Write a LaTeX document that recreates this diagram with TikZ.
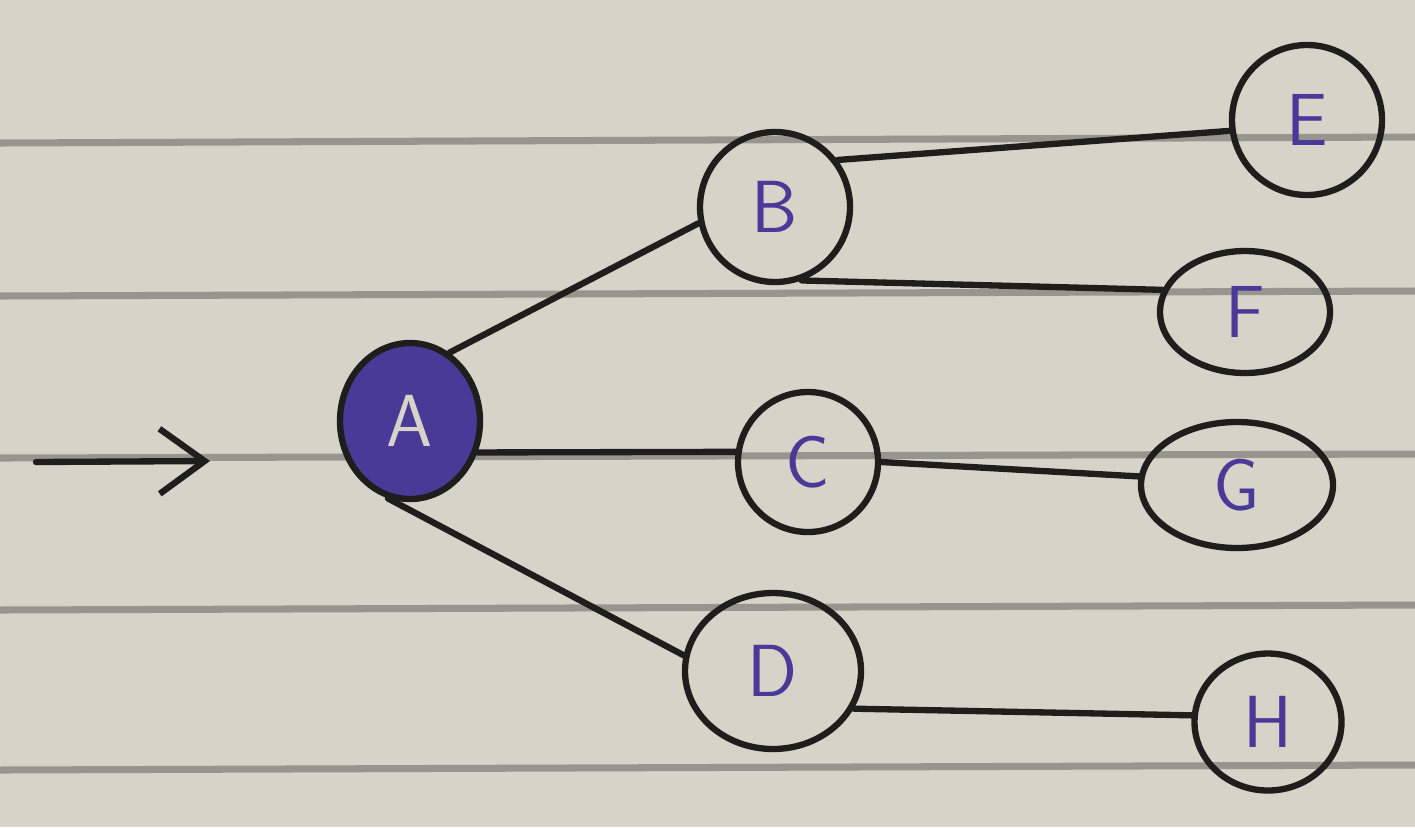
\documentclass[tikz,border=0pt]{standalone}
\usepackage{xcolor}
\usetikzlibrary{arrows.meta,shapes.geometric}
\definecolor{paper}{RGB}{214,211,201}
\definecolor{rule}{RGB}{150,150,142}
\definecolor{ink}{RGB}{72,58,150}
\definecolor{pen}{RGB}{30,30,28}
\begin{document}
\begin{tikzpicture}[
	vertex/.style   = {ellipse, draw=pen, line width=1.8pt, inner sep=0pt,
		text=ink, font=\sffamily\fontsize{21}{24}\selectfont},
	rootvertex/.style = {vertex, fill=ink, text=paper},
	link/.style     = {draw=pen, line width=1.8pt, line cap=round},
	ruling/.style   = {rule, line width=2pt},
	entry/.style    = {link, -{Straight Barb[length=4.5mm, width=6.5mm, line width=1.8pt]}}
	]
	
	% ===================== Paper =====================
	\fill[paper] (0,0) rectangle (14.15,8.27);
	\useasboundingbox (0,0) rectangle (14.15,8.27);
	\draw[ruling] (0,6.84) -- (14.15,6.90);
	\draw[ruling] (0,5.31) -- (14.15,5.36);
	\draw[ruling] (0,3.69) -- (14.15,3.73);
	\draw[ruling] (0,2.17) -- (14.15,2.22);
	\draw[ruling] (0,0.57) -- (14.15,0.62);
	
	% ===================== Tree =====================
	\node[rootvertex, minimum width=1.40cm, minimum height=1.56cm] (A) at (4.10,4.06) {A};
	
	\node[vertex, minimum width=1.50cm, minimum height=1.50cm] (B) at (7.75,6.20) {B};
	\node[vertex, minimum width=1.40cm, minimum height=1.40cm] (C) at (8.08,3.65) {C};
	\node[vertex, minimum width=1.76cm, minimum height=1.56cm] (D) at (7.73,1.56) {D};
	
	\node[vertex, minimum width=1.50cm, minimum height=1.50cm] (E) at (13.07,7.07) {E};
	\node[vertex, minimum width=1.70cm, minimum height=1.22cm] (F) at (12.45,5.15) {F};
	\node[vertex, minimum width=1.92cm, minimum height=1.26cm] (G) at (12.37,3.42) {G};
	\node[vertex, minimum width=1.47cm, minimum height=1.37cm] (H) at (12.68,1.05) {H};
	
	\path[link] (A.60)  -- (B.192);
	\path[link] (A.-25) -- (C.172);
	\path[link] (A.-106) -- (D.170);
	
	\path[link] (B.37)  -- (E.188);
	\path[link] (B.-70) -- (F.165);
	\path[link] (C.east) -- (G.175);
	\path[link] (D.-25) -- (H.175);
	
	% ===================== Entry arrow =====================
	\coordinate (start) at (0.36,3.65);
	\coordinate (enter) at (2.10,3.66);
	\draw[entry] (start) -- (enter);
	
\end{tikzpicture}
\end{document}
